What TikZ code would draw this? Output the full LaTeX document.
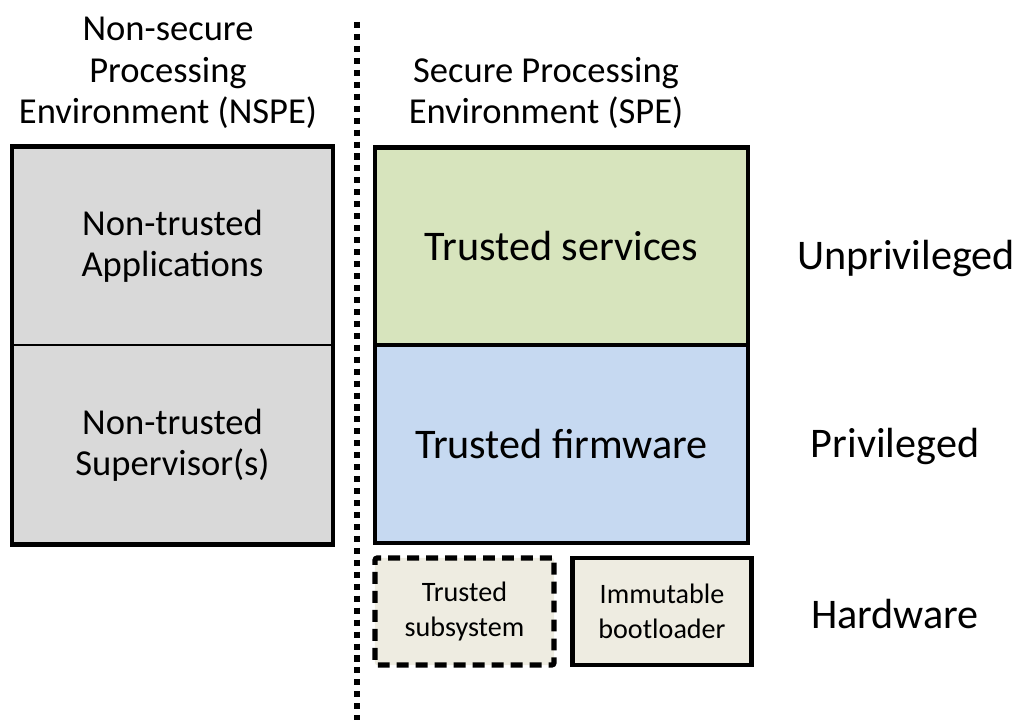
\documentclass[tikz,border=0pt]{standalone}
\usepackage{fontspec}
\setmainfont{Carlito}
\usetikzlibrary{positioning}
\definecolor{nsgrey}{HTML}{D9D9D9}
\definecolor{tsgreen}{HTML}{D7E4BD}
\definecolor{tfblue}{HTML}{C6D9F1}
\definecolor{hwbeige}{HTML}{EEECE1}
\begin{document}
\begin{tikzpicture}[x=0.025cm, y=-0.025cm,
  nsbox/.style={draw, line width=1.4pt, fill=nsgrey, minimum width=8.025cm, minimum height=4.975cm, inner sep=0pt, outer sep=0pt, align=center, font=\fontsize{26}{29.5}\selectfont},
  layer/.style={draw, line width=2.9pt, minimum width=9.325cm, minimum height=4.95cm, inner sep=0pt, outer sep=0pt, font=\fontsize{30}{36}\selectfont},
  hwbox/.style={draw, fill=hwbeige, line width=2.9pt, minimum width=4.475cm, minimum height=2.675cm, inner sep=0pt, align=center, font=\fontsize{20}{25}\selectfont},
  heading/.style={align=center, font=\fontsize{26}{29.5}\selectfont},
  level/.style={font=\fontsize{30}{36}\selectfont}]
	\useasboundingbox (0,0) rectangle (1019,720);

	\node[heading] (nshead) at (168,73) {Non-secure\\Processing\\Environment (NSPE)};
	\node[heading] (shead) at (546,93) {Secure Processing\\Environment (SPE)};

	\node[nsbox] (nsapp) at (172.5,246) {Non-trusted\\Applications};
	\node[nsbox] (nssup) at (172.5,445) {Non-trusted\\Supervisor(s)};
	\draw[line width=2.9pt] (nsapp.north west) rectangle (nssup.south east);

	\coordinate (septop) at (357,22);
	\coordinate (sepbot) at (357,720);
	\draw[line width=4.3pt, dash pattern=on 4.3pt off 4.2pt] (septop) -- (sepbot);

	\node[layer, fill=tsgreen] (tserv) at (561.5,246.5) {Trusted services};
	\node[layer, fill=tfblue] (tfirm) at (561.5,444) {Trusted firmware};

	\node[hwbox, line width=3.6pt, dash pattern=on 8.5pt off 5pt, rounded corners=1.5pt] (tsub) at (464.5,611.5) {Trusted\\subsystem};
	\node[hwbox] (boot) at (662,611.5) {Immutable\\bootloader};

	\node[level] (unpriv) at (906,258) {Unprivileged};
	\node[level] (priv) at (895,446) {Privileged};
	\node[level] (hw) at (895,614) {Hardware};
\end{tikzpicture}
\end{document}
